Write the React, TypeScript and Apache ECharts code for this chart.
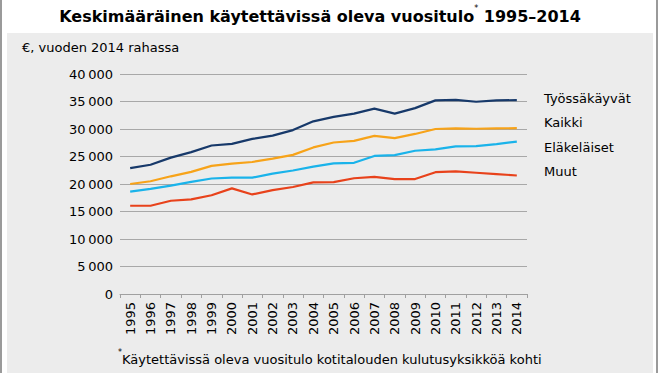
import React, { useEffect, useRef } from "react";
import * as echarts from "echarts";

const years = ["1995","1996","1997","1998","1999","2000","2001","2002","2003","2004","2005","2006","2007","2008","2009","2010","2011","2012","2013","2014"];
const tyossakayvat = [22900,23500,24800,25800,27000,27300,28200,28800,29800,31400,32200,32800,33700,32800,33800,35200,35300,34950,35200,35250];
const kaikki = [20000,20500,21400,22200,23300,23700,24000,24600,25300,26650,27550,27850,28750,28350,29100,30000,30100,30050,30100,30150];
const elakelaiset = [18600,19100,19700,20400,21000,21150,21150,21900,22450,23150,23750,23850,25100,25250,26050,26300,26850,26900,27250,27700];
const muut = [16050,16050,16950,17200,17950,19200,18100,18900,19450,20300,20350,21050,21300,20900,20900,22150,22300,22050,21800,21550];
const seriesNames = ["Työssäkäyvät","Kaikki","Eläkeläiset","Muut"];
const seriesColors = ["#17396a","#f7a319","#1ab3ea","#e8421b"];
const yTickValues = [0,5000,10000,15000,20000,25000,30000,35000,40000];

const FONT = "DejaVu Sans";

export default function App() {
  const ref = useRef<HTMLDivElement>(null);
  useEffect(() => {
    if (!ref.current) return;
    const chart = echarts.init(ref.current, undefined, { renderer: "svg" });
    const data = [tyossakayvat, kaikki, elakelaiset, muut];
    chart.setOption({
      animation: false,
      backgroundColor: "#ffffff",
      textStyle: { fontFamily: FONT },
      graphic: [
        { type: "rect", z: -10, shape: { x: 7, y: 33, width: 646, height: 345 }, style: { fill: "#ececec" } },
        { type: "line", shape: { x1: 1, y1: 0, x2: 1, y2: 373 }, style: { stroke: "#9a9a9a", lineWidth: 2 } },
        { type: "line", shape: { x1: 657, y1: 0, x2: 657, y2: 373 }, style: { stroke: "#9a9a9a", lineWidth: 2 } },
        {
          type: "text",
          x: 320,
          y: 14,
          style: {
            text: "{t|Keskimääräinen käytettävissä oleva vuositulo}{s|*}{t| 1995–2014}",
            align: "center",
            verticalAlign: "middle",
            rich: {
              t: { fontFamily: FONT, fontSize: 16, fontWeight: "bold", fill: "#000", verticalAlign: "bottom", lineHeight: 20 },
              s: { fontFamily: FONT, fontSize: 8, fill: "#000", verticalAlign: "top", lineHeight: 20 },
            },
          },
        },
        {
          type: "text",
          x: 22,
          y: 47,
          style: { text: "€, vuoden 2014 rahassa", fontFamily: FONT, fontSize: 13, fill: "#000", verticalAlign: "middle" },
        },
        {
          type: "text",
          x: 118,
          y: 357,
          style: {
            text: "{s|*}{t|Käytettävissä oleva vuositulo kotitalouden kulutusyksikköä kohti}",
            verticalAlign: "middle",
            rich: {
              t: { fontFamily: FONT, fontSize: 13, fill: "#000", lineHeight: 18, verticalAlign: "bottom" },
              s: { fontFamily: FONT, fontSize: 8, fill: "#000", lineHeight: 14, verticalAlign: "top" },
            },
          },
        },
      ],
      legend: {
        orient: "vertical",
        left: 534,
        top: 86,
        icon: "rect",
        itemWidth: 0,
        itemHeight: 14,
        itemGap: 10.5,
        selectedMode: false,
        data: seriesNames,
        textStyle: { fontFamily: FONT, fontSize: 13, color: "#000", lineHeight: 14 },
      },
      grid: { left: 120, right: 133, top: 74, bottom: 79, containLabel: false },
      xAxis: {
        type: "category",
        data: years,
        boundaryGap: true,
        axisLine: { lineStyle: { color: "#a0a0a0", width: 1 } },
        axisTick: { show: true, length: 4, alignWithLabel: false, lineStyle: { color: "#a0a0a0" } },
        axisLabel: { rotate: 90, fontFamily: FONT, fontSize: 13, color: "#000", margin: 8, interval: 0 },
      },
      yAxis: {
        type: "value",
        min: 0,
        max: 40000,
        interval: 5000,
        axisLine: { show: false },
        axisTick: { show: false },
        splitLine: { lineStyle: { color: "#a8a8a8", width: 1 } },
        axisLabel: {
          fontFamily: FONT,
          fontSize: 13,
          color: "#000",
          margin: 7,
          formatter: (v: number) => (yTickValues.includes(v) ? String(v).replace(/\B(?=(\d{3})+(?!\d))/g, "\u202f") : ""),
        },
      },
      series: seriesNames.map((name, i) => ({
        name,
        type: "line",
        data: data[i],
        color: seriesColors[i],
        symbol: "none",
        lineStyle: { width: 2.2, color: seriesColors[i] },
      })),
    });
    return () => chart.dispose();
  }, []);
  return (
    <div style={{ position: "absolute", left: 0, top: 0, width: 660, height: 373 }}>
      <div ref={ref} style={{ width: 660, height: 373 }} />
    </div>
  );
}
